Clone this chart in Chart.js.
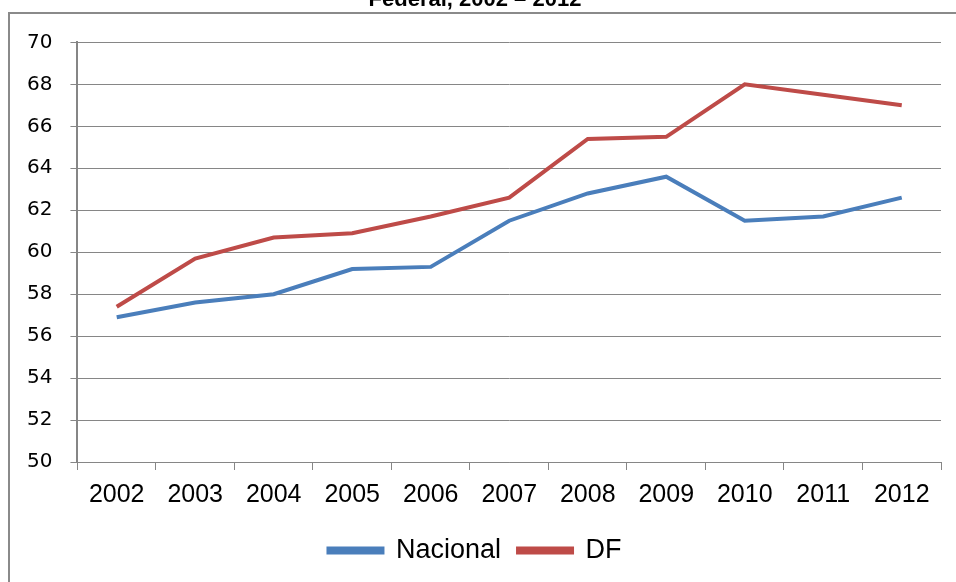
<!doctype html>
<html>

<head>
  <title>Nacional vs DF</title>
  <script src="https://cdn.jsdelivr.net/npm/chart.js@4.4.1/dist/chart.umd.min.js"></script>
  <style>
    html, body {
      margin: 0;
      padding: 0;
      background: #fff;
    }
    .page {
      position: relative;
      width: 956px;
      height: 582px;
      overflow: hidden;
    }
    .chart {
      position: absolute;
      left: 0;
      top: -22px;
      width: 956px;
      height: 604px;
    }
    .frame {
      position: absolute;
      left: 8px;
      top: 12px;
      width: 1000px;
      height: 700px;
      border: 2px solid #8a8a8a;
      pointer-events: none;
    }
  </style>
</head>

<body>
  <div class="page">
    <div class="chart">
      <canvas id="myChart"></canvas>
    </div>
    <div class="frame"></div>
  </div>

  <script>
    var years = ['2002', '2003', '2004', '2005', '2006', '2007', '2008', '2009', '2010', '2011', '2012'];
    var nacional = [56.9, 57.6, 58.0, 59.2, 59.3, 61.5, 62.8, 63.6, 61.5, 61.7, 62.6];
    var df = [57.4, 59.7, 60.7, 60.9, 61.7, 62.6, 65.4, 65.5, 68.0, 67.5, 67.0];
    var titleText = 'Federal, 2002 – 2012';

    var gridGray = '#868686';

    var config = {
      type: 'line',
      data: {
        labels: years,
        datasets: [{
          label: 'Nacional',
          data: nacional,
          borderColor: '#4a7ebb',
          backgroundColor: '#4a7ebb',
          borderWidth: 4,
          pointRadius: 0,
          tension: 0
        }, {
          label: 'DF',
          data: df,
          borderColor: '#be4b48',
          backgroundColor: '#be4b48',
          borderWidth: 4,
          pointRadius: 0,
          tension: 0
        }]
      },
      options: {
        responsive: true,
        maintainAspectRatio: false,
        animation: false,
        layout: {
          padding: {left: 9, right: 15, top: 0, bottom: 8}
        },
        scales: {
          x: {
            offset: true,
            grid: {
              offset: true,
              drawOnChartArea: false,
              color: gridGray,
              tickLength: 8
            },
            border: {
              color: gridGray,
              width: 1
            },
            ticks: {
              color: '#000',
              padding: 10,
              font: {family: 'Liberation Sans, Arial, sans-serif', size: 25}
            }
          },
          y: {
            min: 50,
            max: 70,
            ticks: {
              stepSize: 2,
              color: '#000',
              padding: 18,
              font: {family: "'DejaVu Sans', Verdana, sans-serif", size: 20}
            },
            grid: {
              color: gridGray,
              tickLength: 7
            },
            border: {
              color: gridGray,
              width: 2
            }
          }
        },
        plugins: {
          title: {
            display: true,
            text: titleText,
            color: '#000',
            font: {family: 'Liberation Sans, Arial, sans-serif', size: 22, weight: 'bold'},
            padding: {top: 9, bottom: 29}
          },
          legend: {
            position: 'bottom',
            labels: {
              color: '#000',
              boxWidth: 54,
              boxHeight: 4,
              padding: 17,
              font: {family: 'Liberation Sans, Arial, sans-serif', size: 27}
            }
          },
          tooltip: {
            enabled: false
          }
        }
      }
    };

    window.onload = function() {
      var ctx = document.getElementById('myChart').getContext('2d');
      window.myChart = new Chart(ctx, config);
    };
  </script>
</body>

</html>
